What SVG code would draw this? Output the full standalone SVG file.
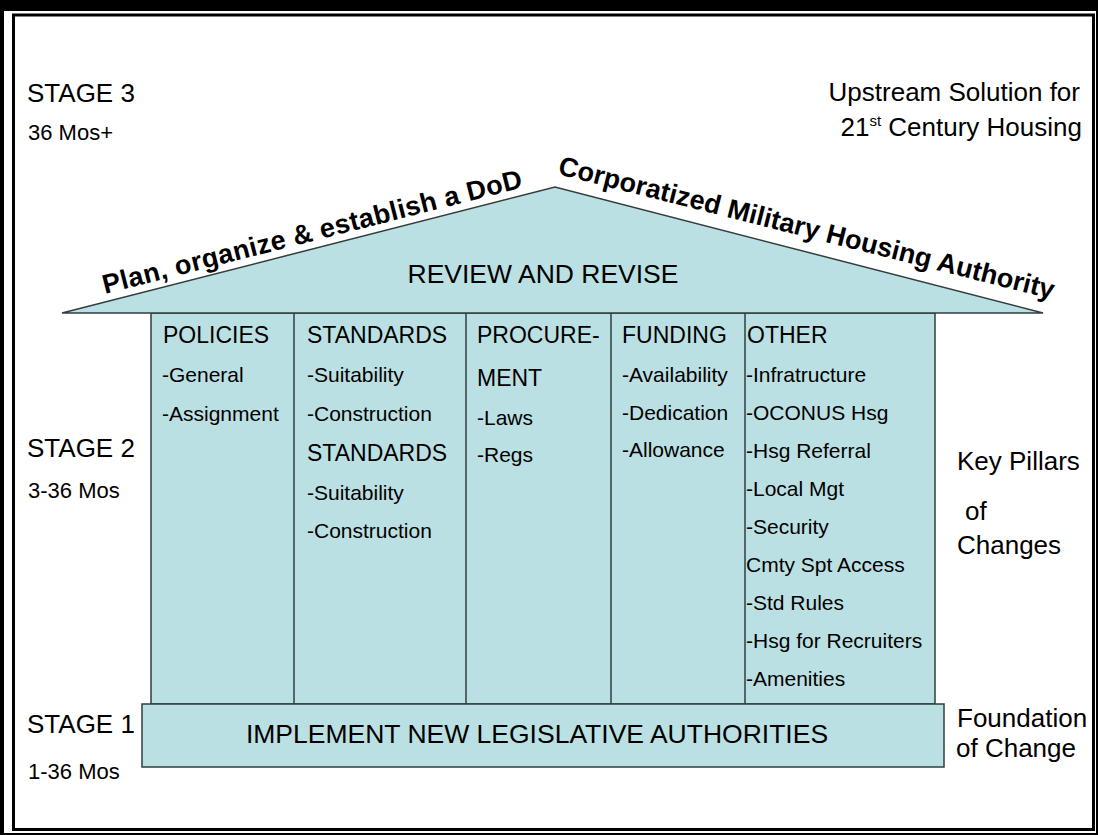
<svg xmlns="http://www.w3.org/2000/svg" width="1098" height="835" viewBox="0 0 1098 835">
<style>
.t{font-family:"Liberation Sans",Arial,sans-serif;fill:#000}
.lbl{font-size:26px}
.sub{font-size:22px}
.h{font-size:23px}
.i{font-size:21px}
.b{font-size:27px;font-weight:bold}
.big{font-size:26.5px}
.shape{fill:#BBE0E3;stroke:#2f3f3f;stroke-width:1.5}
.div{stroke:#2f3f3f;stroke-width:1.5}
</style>
<g id="frame">
<rect x="0" y="0" width="1098" height="835" fill="#000"/>
<rect x="4" y="11" width="1092" height="822" fill="#fff"/>
<rect x="13.5" y="15" width="1080" height="814.5" fill="none" stroke="#000" stroke-width="3"/>
</g>
<g id="pillars">
<rect class="shape" x="151" y="313" width="784" height="391"/>
<g class="div">
<line x1="294" y1="313" x2="294" y2="704"/>
<line x1="466" y1="313" x2="466" y2="704"/>
<line x1="611" y1="313" x2="611" y2="704"/>
<line x1="745" y1="313" x2="745" y2="704"/>
</g>
</g>
<g id="roof">
<polygon class="shape" points="62,313 555,187 1043,313"/>
<text class="t big" x="543" y="283" text-anchor="middle">REVIEW AND REVISE</text>
</g>
<g id="foundation">
<rect class="shape" x="142" y="704" width="802" height="63"/>
<text class="t big" x="537" y="743" text-anchor="middle">IMPLEMENT NEW LEGISLATIVE AUTHORITIES</text>
</g>
<g id="roof-text">
<text class="t b" font-size="28" textLength="432" transform="translate(105,294) rotate(-14.3)">Plan, organize &amp; establish a DoD</text>
<text class="t b" transform="translate(557,174) rotate(14.2)">Corporatized Military Housing Authority</text>
</g>
<g id="col-policies">
<text class="t h" x="163" y="343">POLICIES</text>
<text class="t i" x="162" y="382">-General</text>
<text class="t i" x="162" y="421">-Assignment</text>
</g>
<g id="col-standards">
<text class="t h" x="307" y="343">STANDARDS</text>
<text class="t i" x="307" y="382">-Suitability</text>
<text class="t i" x="307" y="421">-Construction</text>
<text class="t h" x="307" y="461">STANDARDS</text>
<text class="t i" x="307" y="500">-Suitability</text>
<text class="t i" x="307" y="538">-Construction</text>
</g>
<g id="col-procurement">
<text class="t h" x="477" y="343">PROCURE-</text>
<text class="t h" x="477" y="386">MENT</text>
<text class="t i" x="477" y="425">-Laws</text>
<text class="t i" x="477" y="462">-Regs</text>
</g>
<g id="col-funding">
<text class="t h" x="622" y="343">FUNDING</text>
<text class="t i" x="622" y="382">-Availability</text>
<text class="t i" x="622" y="420">-Dedication</text>
<text class="t i" x="622" y="457">-Allowance</text>
</g>
<g id="col-other">
<text class="t h" x="747" y="343">OTHER</text>
<text class="t i" x="746" y="382">-Infratructure</text>
<text class="t i" x="746" y="420">-OCONUS Hsg</text>
<text class="t i" x="746" y="458">-Hsg Referral</text>
<text class="t i" x="746" y="496">-Local Mgt</text>
<text class="t i" x="746" y="534">-Security</text>
<text class="t i" x="746" y="572">Cmty Spt Access</text>
<text class="t i" x="746" y="610">-Std Rules</text>
<text class="t i" x="746" y="648">-Hsg for Recruiters</text>
<text class="t i" x="746" y="686">-Amenities</text>
</g>
<g id="stage3">
<text class="t lbl" x="27" y="102">STAGE 3</text>
<text class="t sub" x="28" y="140">36 Mos+</text>
</g>
<g id="stage2">
<text class="t lbl" x="27" y="457">STAGE 2</text>
<text class="t sub" x="28" y="498">3-36 Mos</text>
</g>
<g id="stage1">
<text class="t lbl" x="27" y="733">STAGE 1</text>
<text class="t sub" x="28" y="779">1-36 Mos</text>
</g>
<g id="title">
<text class="t lbl" x="1080" y="101" text-anchor="end">Upstream Solution for</text>
<text class="t lbl" x="1082" y="136" text-anchor="end">21<tspan font-size="15" dy="-10">st</tspan><tspan dy="10"> Century Housing</tspan></text>
</g>
<g id="key-pillars">
<text class="t lbl" x="957" y="470">Key Pillars</text>
<text class="t lbl" x="965" y="520">of</text>
<text class="t lbl" x="957" y="554">Changes</text>
</g>
<g id="foundation-label">
<text class="t lbl" x="957" y="727">Foundation</text>
<text class="t lbl" x="956" y="757">of Change</text>
</g>
</svg>
